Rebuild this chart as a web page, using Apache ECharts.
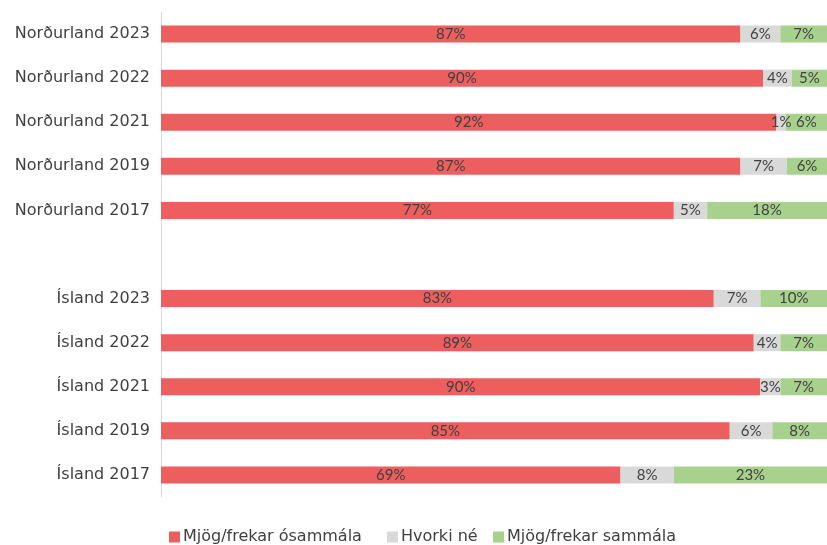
<!DOCTYPE html>
<html>
<head>
<meta charset="utf-8">
<script src="https://cdn.jsdelivr.net/npm/echarts@6/dist/echarts.min.js"></script>
<style>
  html, body { margin: 0; padding: 0; background: #fff; }
  #chart { width: 827px; height: 545px; }
</style>
</head>
<body>
<div id="chart"></div>
<script>
// flokkar, tómur flokkur er bil milli Norðurlands og Íslands
const categories = [
  'Norðurland 2023', 'Norðurland 2022', 'Norðurland 2021', 'Norðurland 2019', 'Norðurland 2017',
  '',
  'Ísland 2023', 'Ísland 2022', 'Ísland 2021', 'Ísland 2019', 'Ísland 2017'
]
const osammala = [87, 90.4, 92.4, 87, 77, null, 83, 89, 90, 85.4, 69]
const hvorki = [6, 4.3, 1.4, 7, 5, null, 7, 4, 3, 6.4, 8]
const sammala = [7, 5.3, 6.2, 6, 18, null, 10, 7, 7, 8.2, 23]
const seriesNames = ['Mjög/frekar ósammála', 'Hvorki né', 'Mjög/frekar sammála']
const colors = ['#ED5E5E', '#D9D9D9', '#A9D18E']

const chart = echarts.init(document.getElementById('chart'))

const makeSeries = (name, data, color) => ({
  name: name,
  type: 'bar',
  stack: 'total',
  data: data,
  barWidth: 17,
  itemStyle: { color: color },
  label: {
    show: true,
    position: 'inside',
    color: '#404040',
    fontFamily: 'Lato',
    fontSize: 15,
    formatter: p => (p.value == null ? '' : Math.round(p.value) + '%')
  }
})

// ein þjóðsaga fyrir hverja röð svo bilin verði eins og á myndinni
const legendLeft = [164, 382, 488]
const legends = seriesNames.map((name, i) => ({
  top: 524,
  left: legendLeft[i],
  itemWidth: 11,
  itemHeight: 11,
  icon: 'rect',
  textStyle: { color: '#404040', fontFamily: 'DejaVu Sans', fontSize: 16, padding: [0, 0, 0, -2] },
  data: [name]
}))

const option = {
  animation: false,
  grid: { left: 161, right: 0, top: 12, bottom: 48 },
  legend: legends,
  xAxis: {
    type: 'value',
    min: 0,
    max: 100,
    show: false
  },
  yAxis: {
    type: 'category',
    inverse: true,
    data: categories,
    axisLine: { lineStyle: { color: '#D9D9D9' } },
    axisTick: { show: false },
    axisLabel: { color: '#404040', fontFamily: 'DejaVu Sans', fontSize: 16, margin: 11 }
  },
  series: [
    makeSeries(seriesNames[0], osammala, colors[0]),
    makeSeries(seriesNames[1], hvorki, colors[1]),
    makeSeries(seriesNames[2], sammala, colors[2])
  ]
}

chart.setOption(option)
</script>
</body>
</html>
